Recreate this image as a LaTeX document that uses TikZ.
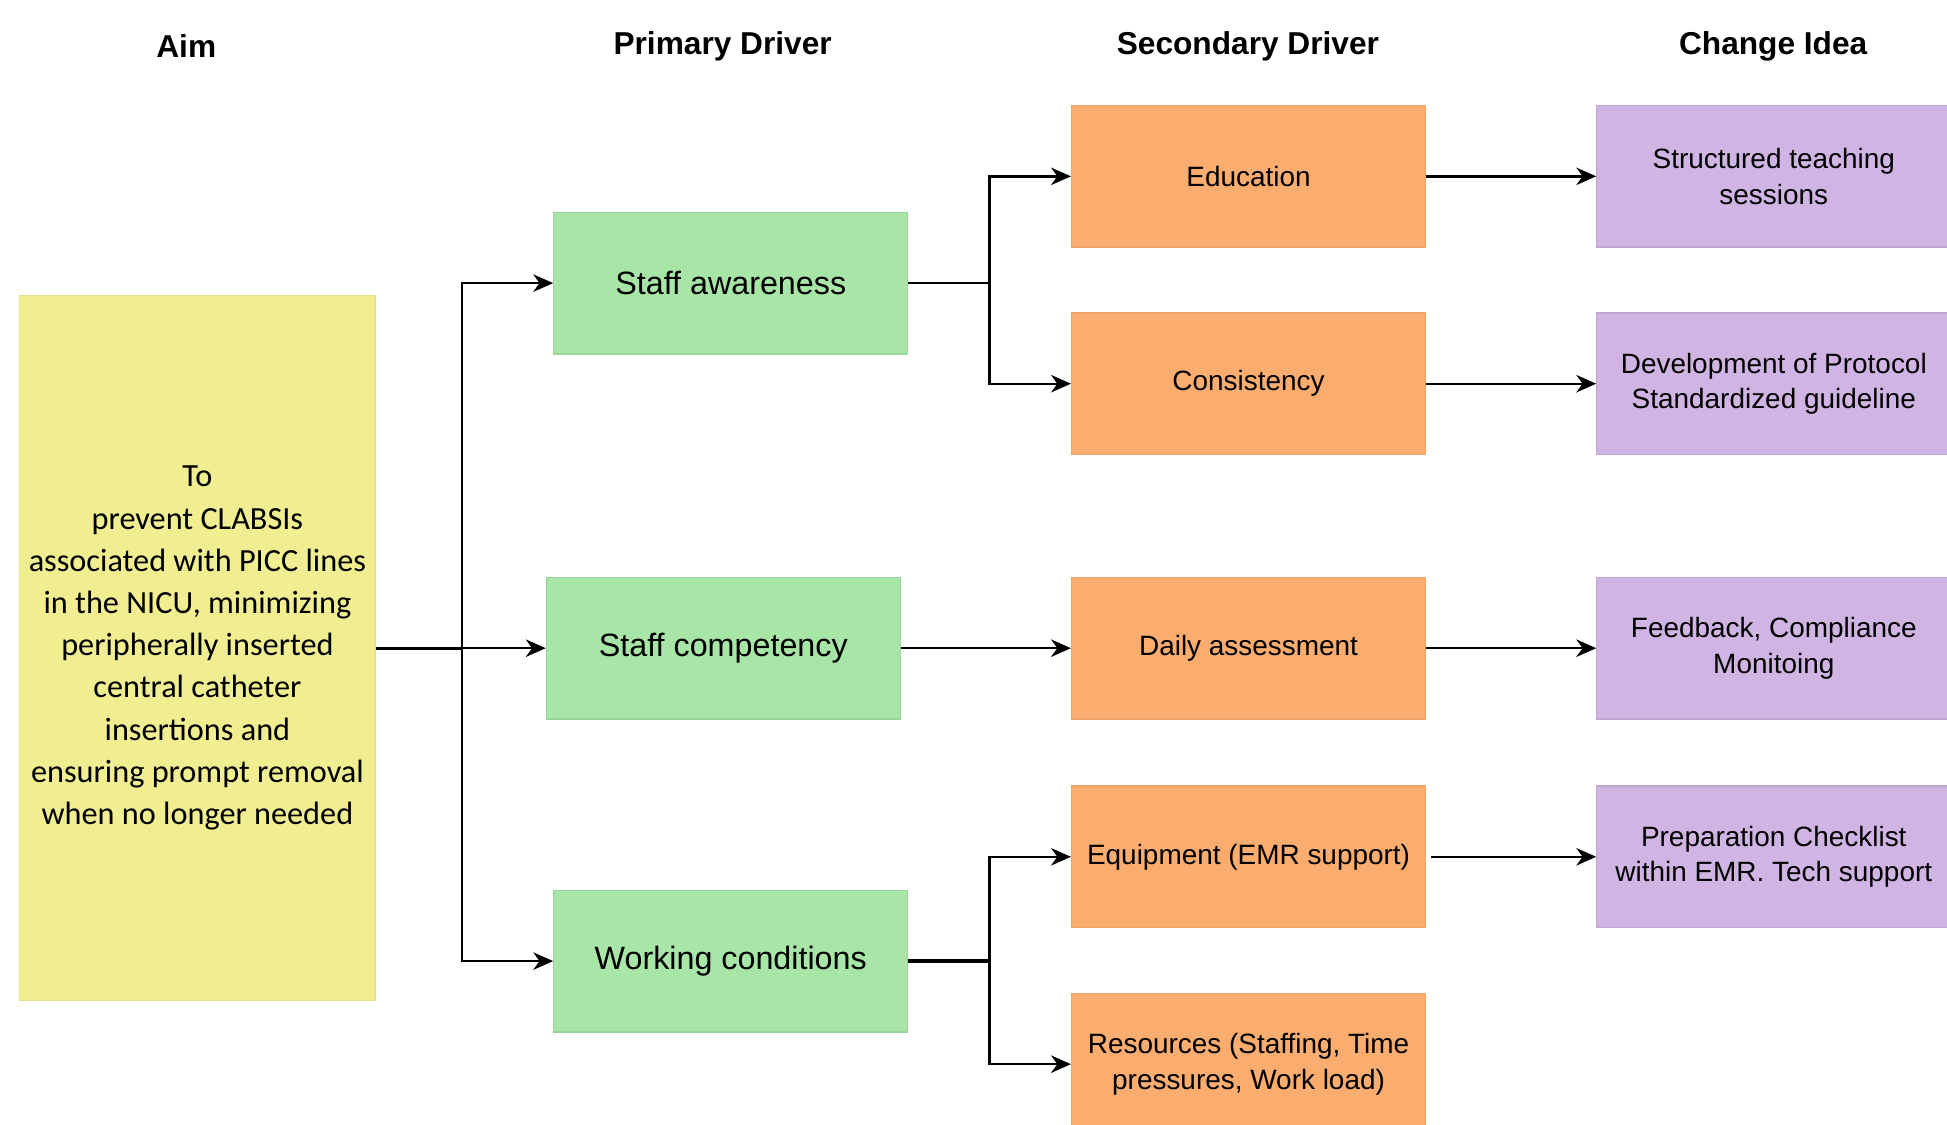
\documentclass[tikz,border=0pt]{standalone}
\usepackage{fontspec}
\setmainfont{Liberation Sans}
\newfontfamily\aimfont{Carlito}
\usetikzlibrary{arrows.meta}

\definecolor{aimyellow}{RGB}{240,238,144}
\definecolor{drivergreen}{RGB}{168,230,168}
\definecolor{secorange}{RGB}{250,173,111}
\definecolor{ideapurple}{RGB}{208,181,228}

\tikzset{
  box/.style={minimum width=285pt, minimum height=114pt, inner sep=0pt, align=center, line width=1pt},
  title/.style={font=\bfseries\fontsize{25.5}{30}\selectfont},
  primary/.style={box, fill=drivergreen, draw=drivergreen!92!black, font=\fontsize{26}{30}\selectfont},
  secondary/.style={box, fill=secorange, draw=secorange!95!black, font=\fontsize{22.5}{28.5}\selectfont},
  idea/.style={box, fill=ideapurple, draw=ideapurple!92!black, font=\fontsize{22.5}{28.5}\selectfont},
  arrow/.style={draw, line width=1.9pt, -{Stealth[length=16pt,width=14pt,inset=5pt]}},
  link/.style={draw, line width=1.9pt},
}

\begin{document}
\begin{tikzpicture}[x=1pt,y=-1pt]
    \useasboundingbox (0,0) rectangle (1568,906);

    % Column titles
    \node[title] (taim) at (150,37) {Aim};
    \node[title] (tprimary) at (582,37) {Primary Driver};
    \node[title] (tsecondary) at (1005,37) {Secondary Driver};
    \node[title] (tidea) at (1428,37) {Change Idea};

    % Aim box
    \node[box, fill=aimyellow, draw=aimyellow!95!black, minimum width=286pt, minimum height=568pt,
          font=\aimfont\fontsize{26}{34}\selectfont] (aim) at (159,522)
      {To\\prevent CLABSIs\\associated with PICC lines\\in the NICU, minimizing\\peripherally inserted\\central catheter\\insertions and\\ensuring prompt removal\\when no longer needed};

    % Primary drivers
    \node[primary] (aware) at (588.5,228) {Staff awareness};
    \node[primary] (comp) at (582.5,522) {Staff competency};
    \node[primary] (work) at (588.5,774) {Working conditions};

    % Secondary drivers
    \node[secondary] (edu) at (1005.5,142) {Education};
    \node[secondary] (cons) at (1005.5,309) {Consistency};
    \node[secondary] (daily) at (1005.5,522) {Daily assessment};
    \node[secondary] (equip) at (1005.5,690) {Equipment (EMR support)};
    \node[secondary] (res) at (1005.5,857) {Resources (Staffing, Time\\pressures, Work load)};

    % Change ideas
    \node[idea] (teach) at (1428.5,142) {Structured teaching\\sessions};
    \node[idea] (proto) at (1428.5,309) {Development of Protocol\\Standardized guideline};
    \node[idea] (feed) at (1428.5,522) {Feedback, Compliance\\Monitoing};
    \node[idea] (prep) at (1428.5,690) {Preparation Checklist\\within EMR. Tech support};

    % Aim to primary drivers
    \coordinate (split1) at (372,522);
    \draw[link, line width=2.6pt] (aim.east) -- (split1);
    \draw[arrow] (split1) |- (aware.west);
    \draw[arrow] (split1) -- (comp.west);
    \draw[arrow] (split1) |- (work.west);

    % Primary to secondary drivers
    \coordinate (split2) at (797,228);
    \coordinate (split3) at (797,774);
    \draw[link] (aware.east) -- (split2);
    \draw[arrow] (split2) |- (edu.west);
    \draw[arrow] (split2) |- (cons.west);
    \draw[arrow] (comp.east) -- (daily.west);
    \draw[link, line width=2.6pt] (work.east) -- (split3);
    \draw[arrow] (split3) |- (equip.west);
    \draw[arrow] (split3) |- (res.west);

    % Secondary drivers to change ideas
    \draw[arrow] (edu.east) -- (teach.west);
    \draw[arrow] (cons.east) -- (proto.west);
    \draw[arrow] (daily.east) -- (feed.west);
    \draw[arrow] (equip.east) ++(4,0) -- (prep.west);

\end{tikzpicture}
\end{document}
